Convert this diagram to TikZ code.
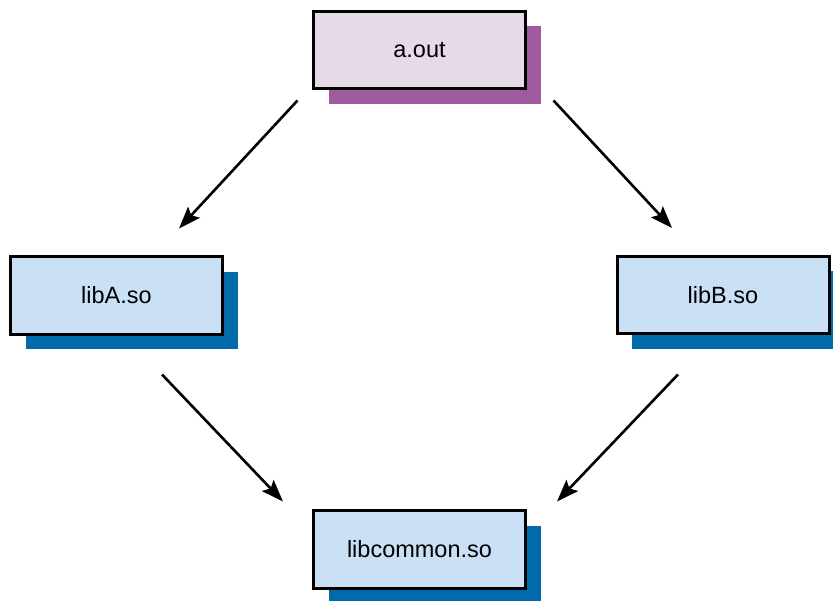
\documentclass[tikz,border=0pt]{standalone}
\usepackage{fontspec}
\setmainfont{Liberation Sans}
\usetikzlibrary{calc,shadows,arrows.meta}
\definecolor{lav}{RGB}{230,218,233}
\definecolor{lavshadow}{RGB}{158,92,158}
\definecolor{sky}{RGB}{201,224,245}
\definecolor{skyshadow}{RGB}{0,106,170}
\begin{document}
\begin{tikzpicture}[x=1pt,y=-1pt,
  box/.style={draw=black,line width=3pt,minimum width=212pt,minimum height=77.5pt,inner sep=0pt,
    font=\fontsize{23.5}{28}\selectfont},
  purplebox/.style={box,fill=lav,general shadow={fill=lavshadow,shadow xshift=15pt,shadow yshift=-15pt}},
  bluebox/.style={box,fill=sky,general shadow={fill=skyshadow,shadow xshift=15pt,shadow yshift=-15pt}},
  link/.style={line width=2.6pt,-{Stealth[length=22pt,width=16pt,inset=4pt]}}]
\useasboundingbox (0,0) rectangle (833,601);
\node[purplebox] (aout) at (419.5,50) {a.out};
\node[bluebox] (liba) at (116.5,295.5) {libA.so};
\node[bluebox] (libb) at (723,295) {libB.so};
\node[bluebox] (libc) at (419.5,549.5) {libcommon.so};
\coordinate (s1) at ($(aout.south west)+(-14.5,10.25)$);
\coordinate (e1) at ($(liba.north)+(62.5,-26.75)$);
\coordinate (s2) at ($(aout.south east)+(26.5,10.25)$);
\coordinate (e2) at ($(libb.north)+(-51,-26.75)$);
\coordinate (s3) at ($(liba.south)+(45.5,38.75)$);
\coordinate (e3) at ($(libc.north)+(-136.5,-7.75)$);
\coordinate (s4) at ($(libb.south)+(-45,39.25)$);
\coordinate (e4) at ($(libc.north)+(137.5,-7.75)$);
\draw[link] (s1) -- (e1);
\draw[link] (s2) -- (e2);
\draw[link] (s3) -- (e3);
\draw[link] (s4) -- (e4);
\end{tikzpicture}
\end{document}
